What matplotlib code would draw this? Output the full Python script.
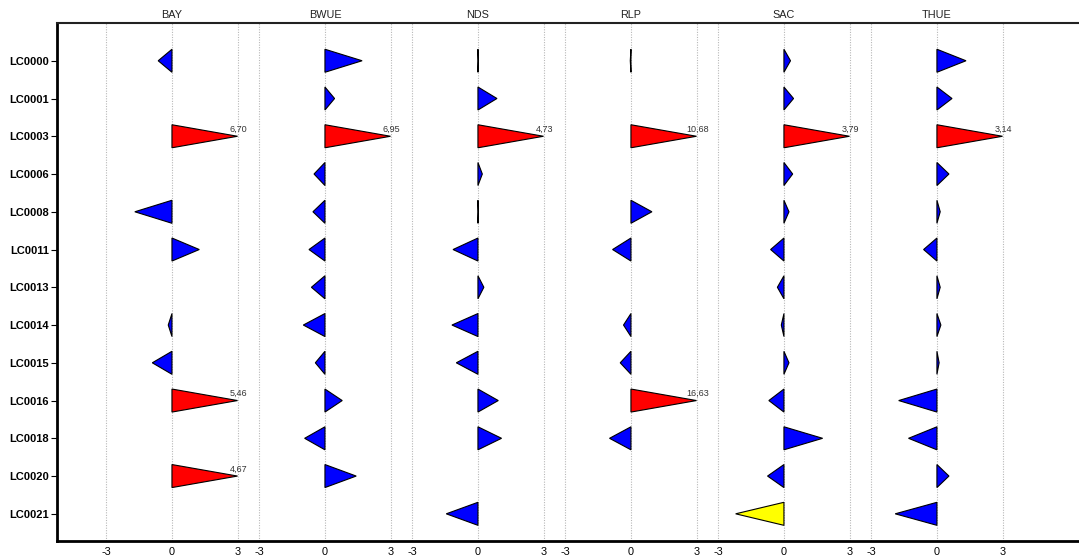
import numpy as np
import matplotlib
matplotlib.use("Agg")
import matplotlib.pyplot as plt
from matplotlib.patches import Polygon
from matplotlib.transforms import blended_transform_factory

plt.rcParams['font.family'] = ['Liberation Sans', 'DejaVu Sans']

regions = ["BAY", "BWUE", "NDS", "RLP", "SAC", "THUE"]
rows = ["LC0000", "LC0001", "LC0003", "LC0006", "LC0008", "LC0011", "LC0013",
        "LC0014", "LC0015", "LC0016", "LC0018", "LC0020", "LC0021"]
nan = np.nan
BAY = [-0.63, nan, 6.70, nan, -1.70, 1.25, nan, -0.17, -0.90, 5.46, nan, 4.67, nan]
BWUE = [1.70, 0.44, 6.95, -0.50, -0.55, -0.73, -0.62, -0.99, -0.44, 0.79, -0.93, 1.43, nan]
NDS = [0.02, 0.87, 4.73, 0.20, 0.02, -1.14, 0.27, -1.19, -0.99, 0.93, 1.08, nan, -1.45]
RLP = [-0.03, nan, 10.68, nan, 0.96, -0.84, nan, -0.34, -0.49, 16.63, -0.98, nan, nan]
SAC = [0.30, 0.44, 3.79, 0.40, 0.23, -0.61, -0.30, -0.12, 0.23, -0.69, 1.77, -0.75, -2.21]
THUE = [1.33, 0.69, 3.14, 0.55, 0.15, -0.61, 0.15, 0.18, 0.10, -1.75, -1.30, 0.55, -1.91]
series = [BAY, BWUE, NDS, RLP, SAC, THUE]

CAP = 3.0
PANEL = 7.0
HALF = 0.305

fig = plt.figure(figsize=(10.79, 5.58), dpi=100)
ax = fig.add_axes([57/1079, 17/558, 1 - 57/1079, (541-23)/558])
ax.set_xlim(-5.26, 41.5)
ax.set_ylim(12.72, -1.0)

for j, (reg, vals) in enumerate(zip(regions, series)):
    off = j * PANEL
    for g in (-3, 0, 3):
        ax.axvline(off + g, color='#b8b8b8', lw=0.8, ls=(0, (1.0, 1.3)), zorder=0)
    for i, v in enumerate(vals):
        if np.isnan(v):
            continue
        if v > CAP:
            col = '#ff0000'
        elif v < -2:
            col = '#ffff00'
        else:
            col = '#0000ff'
        tip = min(v, CAP)
        poly = Polygon([(off, i - HALF), (off, i + HALF), (off + tip, i)],
                       closed=True, facecolor=col, edgecolor='black', lw=0.8, zorder=3)
        ax.add_patch(poly)
        if v > CAP:
            ax.text(off + tip + 0.05, i - 0.07, f"{v:.2f}".replace('.', ','),
                    ha='center', va='bottom', fontsize=6.5, color='#333333', zorder=4)
    ax.text(off, 1.006, reg, transform=blended_transform_factory(ax.transData, ax.transAxes),
            ha='center', va='bottom', fontsize=7.8, color='#222222')

xt, xl = [], []
for j in range(len(regions)):
    for g in (-3, 0, 3):
        xt.append(j * PANEL + g)
        xl.append(str(g))
ax.set_xticks(xt)
ax.set_xticklabels(xl, fontsize=7.8)
ax.tick_params(axis='x', length=0, pad=4.5)

ax.set_yticks(range(len(rows)))
ax.set_yticklabels(rows, fontsize=8, fontweight='bold')
ax.tick_params(axis='y', length=4, width=0.8, pad=2)

for s in ('left', 'bottom'):
    ax.spines[s].set_linewidth(2.0)
ax.spines['top'].set_linewidth(1.5)
ax.spines['top'].set_color('#222222')
ax.spines['right'].set_visible(False)

fig.savefig("out.png", dpi=100)
